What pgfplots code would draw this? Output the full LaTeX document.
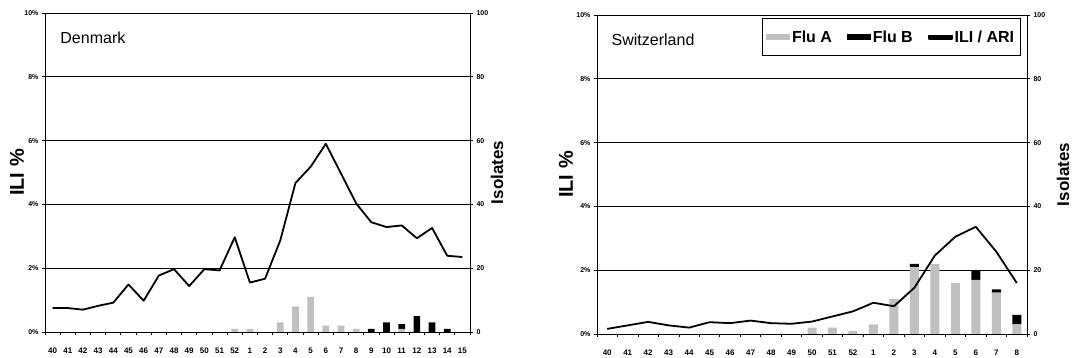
\documentclass[border=0pt]{standalone}
\usepackage{fontspec}
\setmainfont{Liberation Sans}
\usepackage{pgfplots}
\usepackage{pgfplotstable}
\pgfplotsset{compat=1.18}
\definecolor{fluA}{RGB}{192,192,192}

% Denmark: i = category index (40..52, 1..15)
\pgfplotstableread{
i ili A B
0 0.75 0 0
1 0.75 0 0
2 0.70 0 0
3 0.82 0 0
4 0.92 0 0
5 1.49 0 0
6 0.98 0 0
7 1.77 0 0
8 1.97 0 0
9 1.44 0 0
10 1.97 0 0
11 1.93 0 0
12 2.97 1 0
13 1.55 1 0
14 1.67 0 0
15 2.87 3 0
16 4.67 8 0
17 5.18 11 0
18 5.90 2 0
19 4.97 2 0
20 4.03 1 0
21 3.44 0 1
22 3.29 0 3
23 3.34 1 1.5
24 2.94 0 5
25 3.26 0 3
26 2.39 0 1
27 2.35 0 0
}\denmark

% Switzerland: i = category index (40..52, 1..8)
\pgfplotstableread{
i ili A B
0 0.16 0 0
1 0.27 0 0
2 0.38 0 0
3 0.27 0 0
4 0.20 0 0
5 0.37 0 0
6 0.34 0 0
7 0.42 0 0
8 0.34 0 0
9 0.32 0 0
10 0.39 2 0
11 0.55 2 0
12 0.71 1 0
13 0.98 3 0
14 0.87 11 0
15 1.45 21 1
16 2.46 22 0
17 3.05 16 0
18 3.36 17 3
19 2.58 13 1
20 1.60 3 3
}\swiss

\pgfplotsset{
  base/.style={
    scale only axis, xmin=-0.5, ymin=0,
    tick align=outside, major tick length=3pt,
    every tick/.style={black, line width=0.8pt},
    axis line style={black, line width=0.8pt},
    yticklabel style={font=\bfseries\fontsize{7}{8}\selectfont},
    xticklabel style={font=\bfseries\fontsize{8}{9}\selectfont},
  },
  barax/.style={
    base, ymax=100, ybar stacked,
    ytick={0,20,40,60,80,100}, yticklabels={0,20,40,60,80,100},
    ytick pos=right, yticklabel pos=right,
    xtick pos=bottom, x tick label as interval,
    xticklabel style={yshift=-9pt},
    ymajorgrids, grid style={black, line width=0.8pt},
    ylabel={Isolates},
  },
  lineax/.style={
    base, ymax=10, hide x axis, axis y line*=left,
    ytick={0,2,4,6,8,10}, yticklabels={0\%,2\%,4\%,6\%,8\%,10\%},
    ylabel={ILI \%},
  },
}

\begin{document}
\begin{tikzpicture}
% ---------------- Denmark ----------------
\begin{axis}[barax, at={(45pt,26pt)}, anchor=south west, width=425pt, height=319pt,
  xmax=27.5, bar width=6.7pt,
  xtick={-0.5,0.5,...,27.5},
  xticklabels={40,41,42,43,44,45,46,47,48,49,50,51,52,1,2,3,4,5,6,7,8,9,10,11,12,13,14,15},
  ylabel style={font=\bfseries\fontsize{17}{19}\selectfont, at={([xshift=27pt]axis description cs:1,0.5)}, anchor=center}]
\addplot[fill=fluA, draw=none] table[x=i, y=A] {\denmark};
\addplot[fill=black, draw=none] table[x=i, y=B] {\denmark};
\end{axis}
\begin{axis}[lineax, at={(45pt,26pt)}, anchor=south west, width=425pt, height=319pt,
  xmax=27.5,
  ylabel style={font=\bfseries\fontsize{20}{22}\selectfont, at={([xshift=-28pt]axis description cs:0,0.5)}, anchor=center}]
\addplot[black, line width=1.8pt, line join=round] table[x=i, y=ili] {\denmark};
\node[anchor=base west, font=\fontsize{16}{18}\selectfont] at (rel axis cs:0.028,0.903) {Denmark};
\end{axis}

% ---------------- Switzerland ----------------
\begin{axis}[barax, at={(597pt,24pt)}, anchor=south west, width=430pt, height=319pt,
  xmax=20.5, bar width=9pt,
  xtick={-0.5,0.5,...,20.5},
  xticklabels={40,41,42,43,44,45,46,47,48,49,50,51,52,1,2,3,4,5,6,7,8},
  ylabel style={font=\bfseries\fontsize{17}{19}\selectfont, at={([xshift=36pt]axis description cs:1,0.5)}, anchor=center}]
\addplot[fill=fluA, draw=none] table[x=i, y=A] {\swiss};
\addplot[fill=black, draw=none] table[x=i, y=B] {\swiss};
\end{axis}
\begin{axis}[lineax, at={(597pt,24pt)}, anchor=south west, width=430pt, height=319pt,
  xmax=20.5,
  ylabel style={font=\bfseries\fontsize{20}{22}\selectfont, at={([xshift=-31pt]axis description cs:0,0.5)}, anchor=center},
  legend columns=3,
  legend style={at={(axis description cs:0.985,0.99)}, anchor=north east,
    draw=black, line width=0.8pt, fill=white,
    font=\bfseries\fontsize{16}{18}\selectfont,
    inner xsep=4pt, inner ysep=11pt,
    nodes={inner xsep=2pt, inner ysep=1pt},
    /tikz/every even column/.append style={column sep=13pt}}]
\addlegendimage{legend image code/.code={\fill[fluA] (0pt,-2.5pt) rectangle (23pt,2.5pt);}}
\addlegendentry{Flu A}
\addlegendimage{legend image code/.code={\fill[black] (0pt,-2.5pt) rectangle (23pt,2.5pt);}}
\addlegendentry{Flu B}
\addplot[black, line width=1.8pt, line join=round,
  legend image code/.code={\fill[black] (0pt,-1.6pt) rectangle (23pt,1.6pt);}] table[x=i, y=ili] {\swiss};
\addlegendentry{ILI / ARI}
\node[anchor=base west, font=\fontsize{16}{18}\selectfont] at (rel axis cs:0.026,0.903) {Switzerland};
\end{axis}
\pgfresetboundingbox
\path (0,0) rectangle (1074pt,358pt);
\end{tikzpicture}
\end{document}
